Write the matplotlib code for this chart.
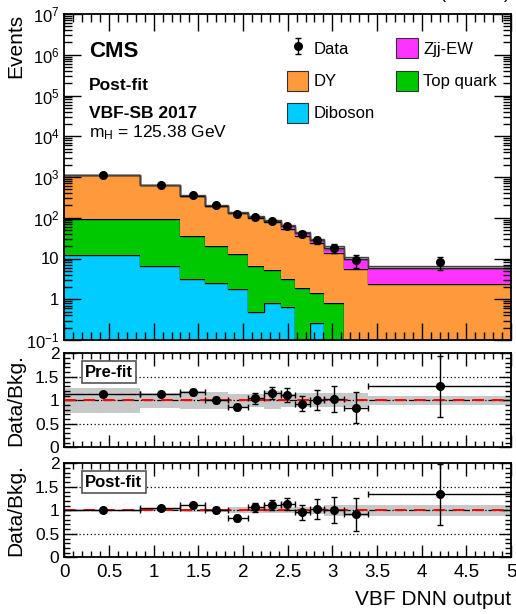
import numpy as np
import matplotlib
matplotlib.use('Agg')
import matplotlib.pyplot as plt
from matplotlib.patches import Patch
from matplotlib.ticker import MultipleLocator, LogLocator, FuncFormatter, NullFormatter

plt.rcParams['font.family'] = ['Liberation Sans', 'DejaVu Sans']
plt.rcParams['mathtext.fontset'] = 'custom'
plt.rcParams['mathtext.rm'] = 'Liberation Sans'
plt.rcParams['mathtext.it'] = 'Liberation Sans:italic'
plt.rcParams['mathtext.bf'] = 'Liberation Sans:bold'

#=======================================
# Inputs
#=======================================
edges = [0, 0.85, 1.30, 1.57, 1.83, 2.06, 2.23, 2.43, 2.58, 2.75, 2.91, 3.13, 3.40, 5.0]
data_x = [0.43, 1.08, 1.44, 1.70, 1.93, 2.14, 2.33, 2.49, 2.66, 2.83, 3.02, 3.26, 4.20]
data_y = [1120, 630, 355, 200, 121, 106, 85, 63, 40, 28, 18, 9, 8]

diboson = [12, 6.6, 3.2, 2.5, 1.8, 0.48, 0.83, 0.66, 0, 0.26, 0, 0, 0]
top     = [83, 88.4, 31.8, 17.5, 10.8, 6.1, 4.4, 2.5, 1.9, 1.2, 0.8, 0, 0]
dy      = [1005, 525, 305, 175, 117, 93, 73, 49, 33, 22, 12.6, 5.4, 2.35]
zjj     = [8, 6, 5, 4, 4, 5, 5, 10, 7.5, 4.6, 4.3, 4.2, 3.6]

ratio_pre  = [1.14, 1.14, 1.18, 1.01, 0.86, 1.04, 1.15, 1.12, 0.93, 1.01, 1.03, 0.84, 1.30]
err_pre    = [0.02, 0.03, 0.06, 0.07, 0.06, 0.12, 0.13, 0.15, 0.16, 0.21, 0.28, 0.33, 0.65]
band_pre   = [0.27, 0.16, 0.19, 0.18, 0.14, 0.14, 0.19, 0.14, 0.15, 0.15, 0.15, 0.15, 0.09]

ratio_post = [1.00, 1.04, 1.11, 1.00, 0.84, 1.06, 1.11, 1.13, 0.96, 1.02, 1.01, 0.92, 1.34]
err_post   = [0.02, 0.03, 0.05, 0.06, 0.06, 0.10, 0.10, 0.13, 0.16, 0.21, 0.27, 0.35, 0.65]
band_post  = [0.015, 0.02, 0.03, 0.03, 0.06, 0.06, 0.06, 0.06, 0.07, 0.07, 0.12, 0.12, 0.12]

col_diboson = '#00ccff'
col_top = '#00c800'
col_dy = '#ff9a3c'
col_zjj = '#ff33ff'

W, H = 516, 614
def fx(px):
    return px / W
def fy(py):
    return 1 - py / H

fig = plt.figure(figsize=(W / 100, H / 100), dpi=100)
ax = fig.add_axes([fx(64.3), fy(340), fx(511) - fx(64.3), fy(14) - fy(340)])
ax_pre = fig.add_axes([fx(64.3), fy(447.3), fx(511) - fx(64.3), fy(353.3) - fy(447.3)])
ax_post = fig.add_axes([fx(64.3), fy(557.3), fx(511) - fx(64.3), fy(463.3) - fy(557.3)])

#========================
# Main stacked histogram
#========================
floor = 1e-4
layers = [(diboson, col_diboson), (top, col_top), (dy, col_dy), (zjj, col_zjj)]
bottom = np.full(len(dy), floor)
for vals, col in layers:
    topv = bottom + np.array(vals)
    ax.stairs(topv, edges, baseline=bottom, fill=True, color=col, lw=0)
    ax.stairs(topv, edges, baseline=None, color='k', lw=1.0)
    bottom = topv
total = bottom
unc = np.array(band_post)
ax.stairs(total * (1 + unc), edges, baseline=total * (1 - unc), fill=True,
          color='#555555', alpha=0.45, lw=0)
ax.stairs(total * (1 + unc), edges, baseline=None, color='#444444', lw=1.0)

data_y = np.array(data_y, dtype=float)
hdata = ax.errorbar(data_x, data_y, yerr=np.sqrt(data_y), fmt='o', color='k',
                    ms=5.5, capsize=2, elinewidth=1, capthick=1)

ax.set_yscale('log')
ax.set_xlim(0, 5)
ax.set_ylim(0.1, 1e7)

def logfmt(v, pos):
    if abs(v - 1) < 1e-9:
        return '1'
    if abs(v - 10) < 1e-9:
        return '10'
    return r'$10^{%d}$' % int(round(np.log10(v)))

ax.yaxis.set_major_locator(LogLocator(base=10, numticks=20))
ax.yaxis.set_minor_locator(LogLocator(base=10, subs=np.arange(2, 10), numticks=20))
ax.yaxis.set_major_formatter(FuncFormatter(logfmt))
ax.yaxis.set_minor_formatter(NullFormatter())
ax.set_ylabel('Events', fontsize=15, loc='top', labelpad=4)

for a in (ax, ax_pre, ax_post):
    a.set_xlim(0, 5)
    a.xaxis.set_major_locator(MultipleLocator(0.5))
    a.xaxis.set_minor_locator(MultipleLocator(0.1))
    a.tick_params(which='both', direction='in', top=True, right=True, labelsize=12.5, width=1)
    for s in a.spines.values():
        s.set_linewidth(1.3)
ax.tick_params(which='major', length=12)
ax.tick_params(which='minor', length=6)
ax.tick_params(axis='y', labelsize=12)
ax.tick_params(axis='x', labelbottom=False)
ax_pre.tick_params(axis='x', labelbottom=False)
ax_post.tick_params(axis='x', labelsize=13.5, pad=5)

# legend
handles = [hdata,
           Patch(facecolor=col_dy, edgecolor='#333333', lw=0.8),
           Patch(facecolor=col_diboson, edgecolor='#333333', lw=0.8),
           Patch(facecolor=col_zjj, edgecolor='#333333', lw=0.8),
           Patch(facecolor=col_top, edgecolor='#333333', lw=0.8)]
labels = ['Data', 'DY', 'Diboson', 'Zjj-EW', 'Top quark']
ax.legend(handles, labels, ncol=2, loc='upper left', bbox_to_anchor=(0.498, 0.925),
          frameon=False, fontsize=12, borderpad=0, borderaxespad=0,
          handlelength=1.3, handleheight=1.45, handletextpad=0.3,
          labelspacing=0.75, columnspacing=1.3)

fig.text(fx(89), fy(57), 'CMS', fontsize=16, fontweight='bold', ha='left', va='baseline')
fig.text(fx(89), fy(90), 'Post-fit', fontsize=12.5, fontweight='bold', ha='left', va='baseline')
fig.text(fx(89), fy(118), 'VBF-SB 2017', fontsize=12.5, fontweight='bold', ha='left', va='baseline')
fig.text(fx(89), fy(137), r'm$_{\mathregular{H}}$ = 125.38 GeV', fontsize=12.5, ha='left', va='baseline')
fig.text(fx(510), 1.0 + 1.0 / H, r'41.5 fb$^{-1}$ (13 TeV)', fontsize=13, ha='right', va='baseline')

#========================
# Ratio panels
#========================
def ratio_panel(a, ratio, err, band, tag):
    band = np.array(band)
    a.stairs(1 + band, edges, baseline=1 - band, fill=True, color='#c8c8c8', lw=0)
    for yl in (0.5, 1.5):
        a.axhline(yl, color='k', ls=(0, (1, 2)), lw=0.9)
    a.axhline(1.0, color='k', ls='-.', lw=0.9)
    a.axhline(1.0, color='red', ls=(0, (6, 4)), lw=1.4)
    xl = np.array(data_x) - np.array(edges[:-1])
    xh = np.array(edges[1:]) - np.array(data_x)
    a.errorbar(data_x, ratio, yerr=err, xerr=[xl, xh], fmt='o', color='k',
               ms=5.5, capsize=2, elinewidth=1, capthick=1)
    a.set_ylim(0, 2)
    a.yaxis.set_major_locator(MultipleLocator(0.5))
    a.yaxis.set_minor_locator(MultipleLocator(0.1))
    a.yaxis.set_major_formatter(FuncFormatter(lambda v, p: '%g' % v))
    a.tick_params(which='major', length=9)
    a.tick_params(which='minor', length=4.5)
    a.set_ylabel('Data/Bkg.', fontsize=15, labelpad=4)
    a.text(0.0465, 0.8, tag, transform=a.transAxes, fontsize=12, fontweight='bold',
           ha='left', va='center',
           bbox=dict(boxstyle='square,pad=0.2', facecolor='white', edgecolor='#555555', lw=1.2))

ratio_panel(ax_pre, ratio_pre, err_pre, band_pre, 'Pre-fit')
ratio_panel(ax_post, ratio_post, err_post, band_post, 'Post-fit')

ax_post.set_xlabel('VBF DNN output', fontsize=15, loc='right', labelpad=6)
ax_post.xaxis.set_major_formatter(FuncFormatter(lambda v, p: '%g' % v))

for a in (ax, ax_pre, ax_post):
    a.yaxis.set_label_coords(-0.088, 1.0 if a is ax else 0.5)

fig.savefig('out.png', dpi=100)
